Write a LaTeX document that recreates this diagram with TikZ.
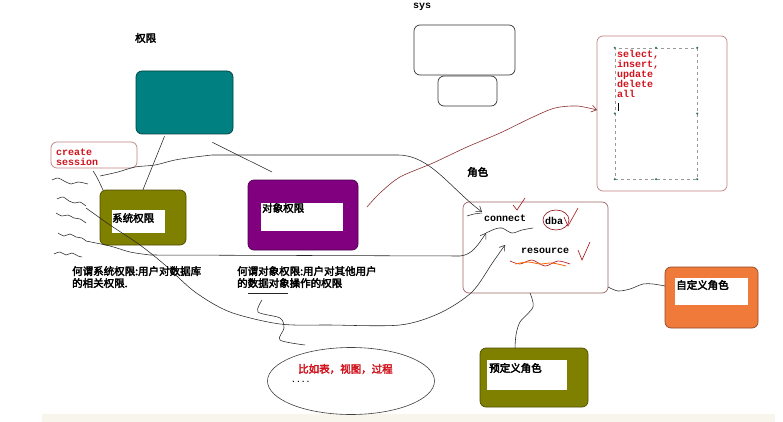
\documentclass[tikz,border=0pt]{standalone}
\usepackage{fontspec}
\newfontfamily\cjk[FakeBold=3]{Noto Sans CJK SC}
\newfontfamily\mono{Liberation Mono}
\usetikzlibrary{arrows.meta,shapes.geometric}
\definecolor{tealbox}{RGB}{0,128,128}
\definecolor{olivebox}{RGB}{128,128,0}
\definecolor{purplebox}{RGB}{128,0,128}
\definecolor{orangebox}{RGB}{240,122,58}
\definecolor{pinkedge}{RGB}{190,130,130}
\definecolor{roleedge}{RGB}{160,100,100}
\definecolor{redtxt}{RGB}{210,20,30}
\definecolor{arrowred}{RGB}{140,50,50}
\definecolor{dotgreen}{RGB}{40,120,90}
\definecolor{band}{RGB}{248,246,236}
\tikzset{
  rbox/.style={rounded corners=6pt, line width=0.7pt, inner sep=0pt},
  whitebox/.style={fill=white, inner sep=0pt},
  cjklabel/.style={font=\cjk\fontsize{10.5}{12}\selectfont, inner sep=0pt, anchor=west},
  monored/.style={font=\mono\bfseries\fontsize{10}{10}\selectfont, text=redtxt, inner sep=0pt, anchor=north west, align=left},
  monoblack/.style={font=\mono\bfseries\fontsize{10}{10}\selectfont, inner sep=0pt, anchor=west},
  wire/.style={line width=0.55pt, black!85},
  hand/.style={-{Straight Barb[length=5pt,width=7pt]}},
  redmark/.style={line width=0.6pt, redtxt!80!black},
}
\begin{document}
\begin{tikzpicture}[x=1pt,y=-1pt]
\useasboundingbox (0,0) rectangle (783,422);
\fill[white] (0,0) rectangle (783,422);
\fill[band] (42,414) rectangle (775,422);

% ---------- boxes ----------
\node[rbox, fill=tealbox, draw=tealbox!50!black, minimum width=97pt, minimum height=63pt] (perm) at (184.5,102.5) {};
\node[rbox, draw=black!80, fill=white, minimum width=101pt, minimum height=50pt] (sysbig) at (464.5,50) {};
\node[rbox, draw=black!80, fill=white, minimum width=59pt, minimum height=30pt] (syssmall) at (467.5,91) {};
\node[rbox, draw=pinkedge, fill=white, minimum width=130pt, minimum height=155pt] (objlist) at (662,113.5) {};
\node[draw=gray!80, dashed, inner sep=0pt, minimum width=82pt, minimum height=131pt] (objdash) at (656,113.5) {};
\foreach \p in {north west,north east,south west,south east,west,east,north,south}
  \fill[dotgreen] (objdash.\p) circle (1.2pt);
\node[rbox, draw=pinkedge, fill=white, minimum width=86pt, minimum height=26pt] (cs) at (94,155) {};
\node[rbox, fill=olivebox, draw=olivebox!60!black, minimum width=86pt, minimum height=55pt] (sysp) at (143,217.5) {};
\node[whitebox, minimum width=53pt, minimum height=23pt] (syspin) at (138.5,221.5) {};
\node[rbox, fill=purplebox, draw=purplebox!60!black, minimum width=110pt, minimum height=70pt] (objp) at (303,215) {};
\node[whitebox, minimum width=82pt, minimum height=28pt] (objpin) at (302,217) {};
\node[rbox, draw=roleedge, fill=white, minimum width=145pt, minimum height=91pt] (role) at (535.5,247.5) {};
\node[rbox, fill=orangebox, draw=orangebox!60!black, minimum width=93pt, minimum height=61pt] (custom) at (711.5,297.5) {};
\node[whitebox, minimum width=73pt, minimum height=27pt] (customin) at (711.5,291.5) {};
\node[rbox, fill=olivebox, draw=olivebox!60!black, minimum width=108pt, minimum height=59pt] (predef) at (534,377.5) {};
\node[whitebox, minimum width=80pt, minimum height=30pt] (predefin) at (527,375) {};
\node[draw=black!75, line width=0.6pt, ellipse, minimum width=167pt, minimum height=67pt, inner sep=0pt] (eg) at (351,381) {};

% ---------- coordinates ----------
\coordinate (csfoot) at (93,171);
\coordinate (topstart) at (100,176);
\coordinate (conn) at (482,212);
\coordinate (conn2) at (486,233);
\coordinate (res) at (505,245);
\coordinate (purpR) at (367,207);
\coordinate (undl) at (262,300);

% ---------- user squiggles ----------
\draw[wire] plot[smooth] coordinates {(52,180) (58,178) (64,181) (71,184) (78,182) (88,184)};
\draw[wire] plot[smooth] coordinates {(57,199) (63,197) (69,201) (75,203) (80,202) (86,206)};
\draw[wire] plot[smooth] coordinates {(56,213) (62,216) (68,215) (74,218) (80,219) (86,223)};
\draw[wire] plot[smooth] coordinates {(58,233) (64,236) (70,234) (76,237) (82,238) (86,241)};
\draw[wire] plot[smooth] coordinates {(54,254) (60,252) (66,255) (72,253) (78,256) (82,257)};

% ---------- connectors ----------
\draw[wire] (perm.south) ++(-20,2) -- (sysp.north);
\draw[wire] (perm.south east) ++(-21,8) -- (272,172);
\draw[wire] (csfoot) .. controls (98,178) and (100,184) .. (103,190);
\draw[wire,hand] plot[smooth] coordinates {(topstart) (118,172) (135,167) (155,165) (175,160) (195,157) (212,155)} -- (398,155) .. controls (430,155) and (450,188) .. (conn);
\draw[wire,hand] plot[smooth] coordinates {(86,241) (110,246) (130,252) (150,255)} -- (460,256) .. controls (472,255) and (478,245) .. (conn2);
\draw[wire,hand] plot[smooth] coordinates {(86,208) (110,225) (140,245) (165,265) (195,292) (230,312) (280,324) (330,325) (400,325) (440,313) (472,292) (493,262) (res)};
\draw[wire] plot[smooth] coordinates {(467,216) (474,214) (482,213)};
\draw[wire] plot[smooth] coordinates {(486,233) (495,229) (502,228) (512,233) (522,230) (533,228)};
\draw[wire] (248,293) -- (288,293);
\draw[wire] plot[smooth] coordinates {(undl) (258,312) (280,318) (284,328) (280,340) (305,345)};
\draw[wire] plot[smooth] coordinates {(530,293) (533,307) (520,322) (516,335) (515,348)};
\draw[wire] plot[smooth] coordinates {(608,287) (618,291) (630,289) (643,284) (653,284) (665,286)};
\draw[line width=0.6pt, arrowred, hand] plot[smooth] coordinates {(purpR) (380,193) (400,177) (433,163) (467,147) (500,133) (533,117) (555,108) (577,106) (597,110)};

% ---------- role box marks ----------
\draw[redmark] (513,205) -- (517,210) -- (525,198);
\draw[line width=0.6pt, redtxt!70!black] (556,220) ellipse (13pt and 10pt);
\draw[redmark] (564,217) -- (568,226) -- (578,208);
\draw[redmark] (578,250) -- (582,260) -- (590,242);
\draw[line width=0.6pt, redtxt!85!black] plot[smooth] coordinates {(510,261) (520,264) (532,260) (545,266) (558,261) (570,264)};
\draw[line width=0.8pt, orange!80!red] plot[smooth] coordinates {(515,264) (528,262) (540,264) (552,263) (566,266)};

% ---------- texts ----------
\node[cjklabel] (t1) at (135,38) {权限};
\node[monoblack] (tsys) at (413,7) {sys};
\node[monored] (tlist) at (617,50) {select,\\insert,\\update\\delete\\all};
\draw[line width=0.8pt, black] (618,103) -- (618,111);
\node[monored] (tcs) at (56,149) {create\\session};
\node[cjklabel] (tsp) at (112,218) {系统权限};
\node[cjklabel] (top) at (262,208) {对象权限};
\node[cjklabel] (trole) at (467,172) {角色};
\node[monoblack] (tconn) at (484,218) {connect};
\node[monoblack] (tdba) at (545,221) {dba};
\node[monoblack] (tres) at (521,251) {resource};
\node[cjklabel] (tcustom) at (676,285) {自定义角色};
\node[cjklabel] (tpre) at (489,368) {预定义角色};
\node[cjklabel, text=redtxt] (teg) at (298,369) {比如表，视图，过程};
\node[monoblack, font=\mono\bfseries\fontsize{8}{8}\selectfont] (tdots) at (291,382) {....};
\node[cjklabel, anchor=north west, align=left] (dsys) at (72,266) {何谓系统权限:用户对数据库\\的相关权限.};
\node[cjklabel, anchor=north west, align=left] (dobj) at (237,266) {何谓对象权限:用户对其他用户\\的数据对象操作的权限};
\end{tikzpicture}
\end{document}
